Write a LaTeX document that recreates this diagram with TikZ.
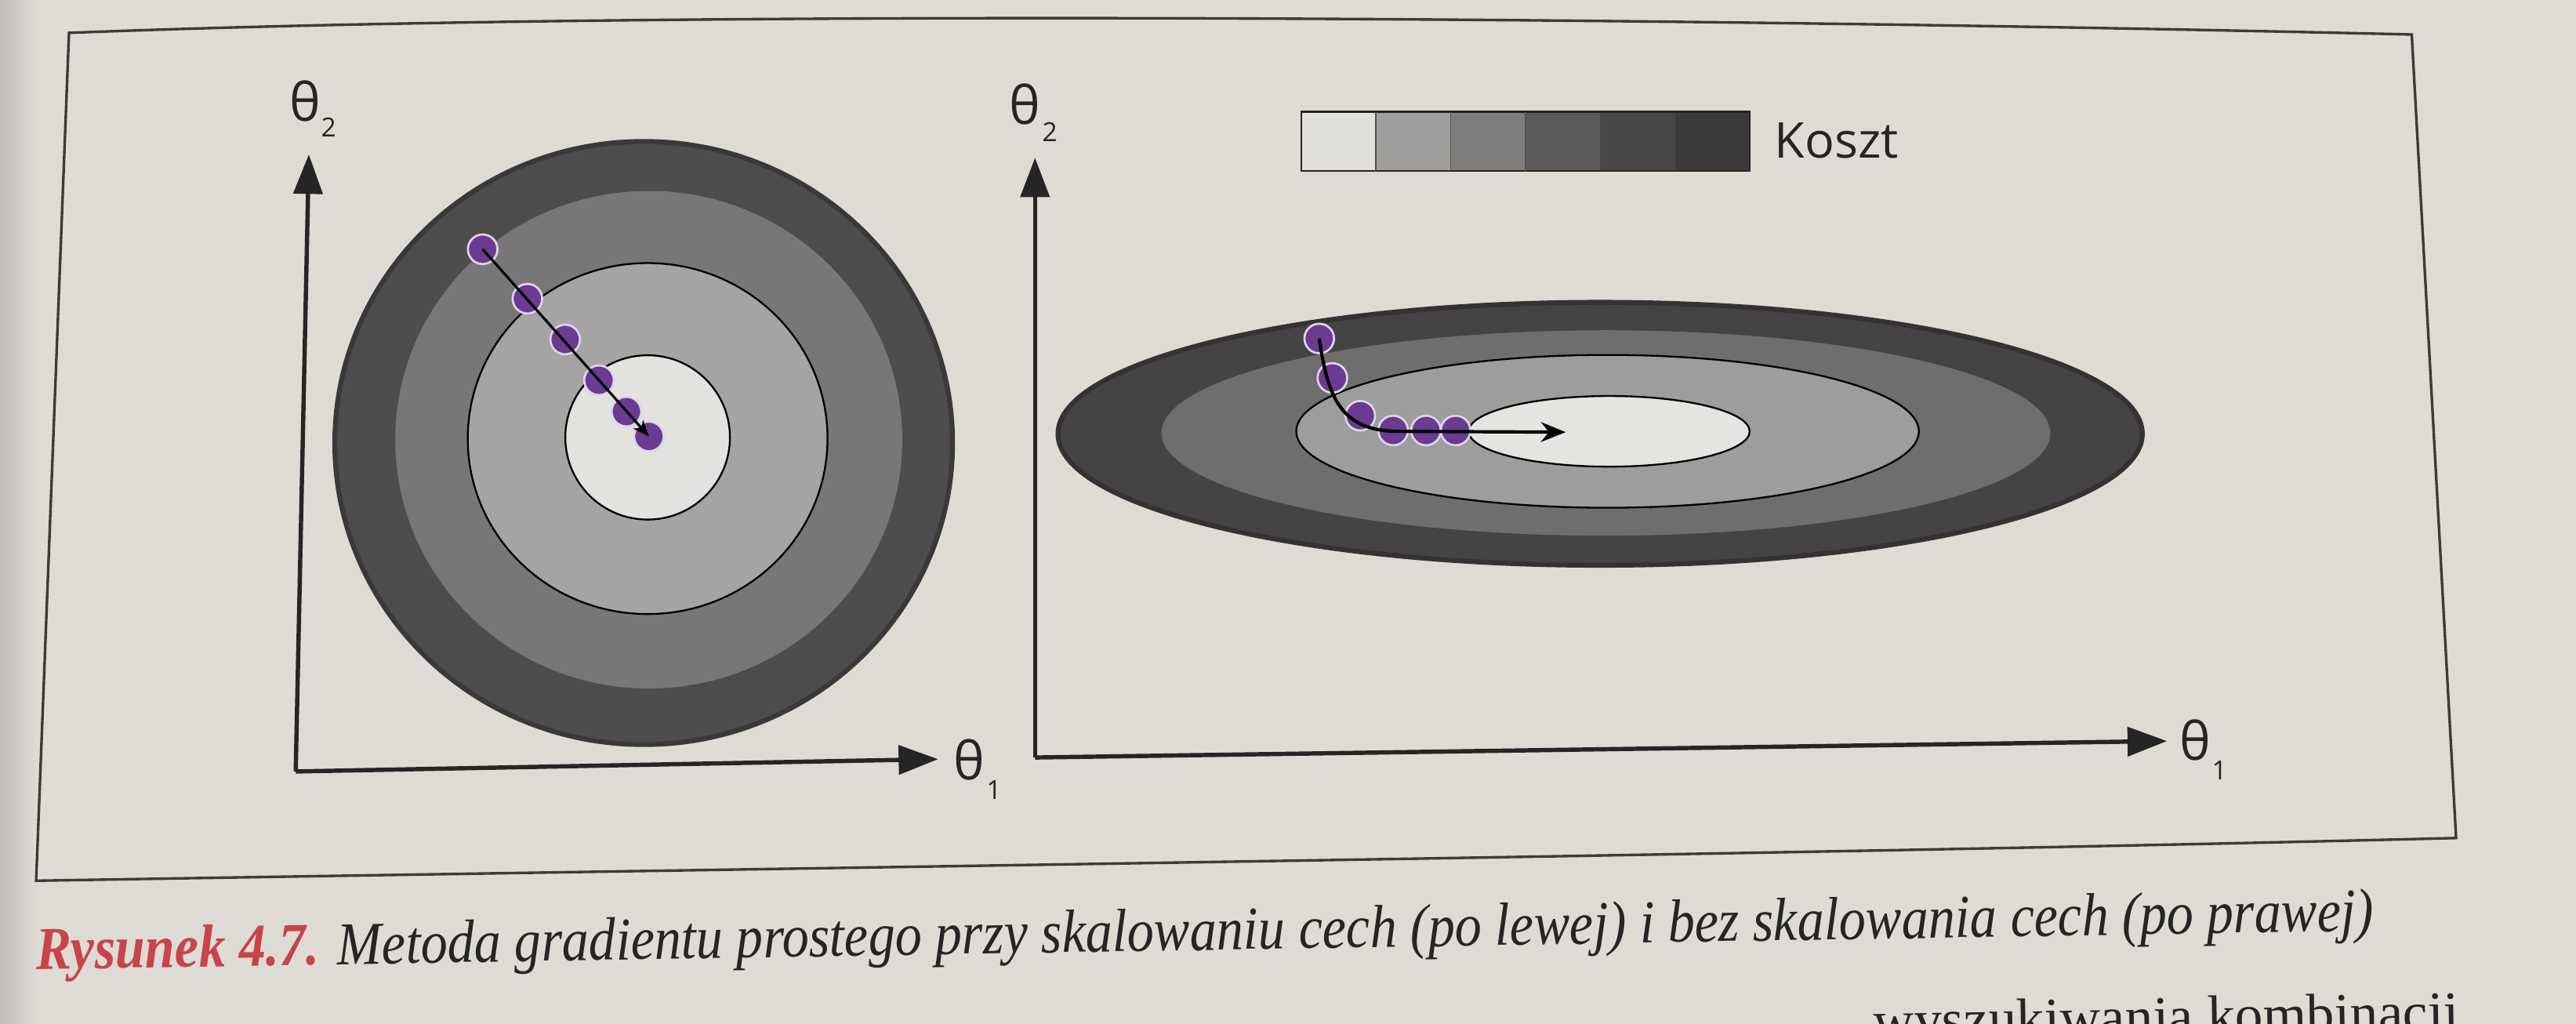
\documentclass[tikz,border=0pt]{standalone}
\usepackage{fontspec}
\usepackage{graphicx}
\usetikzlibrary{arrows.meta}
\newfontfamily\lblfont{Open Sans}
\newfontfamily\capfont{Liberation Serif}
\definecolor{page}{HTML}{DEDBD5}
\definecolor{inkc}{HTML}{262525}
\definecolor{capred}{HTML}{C7444A}
\definecolor{ringA}{HTML}{4E4C4D}
\definecolor{ringB}{HTML}{787677}
\definecolor{ringC}{HTML}{A5A3A3}
\definecolor{ringD}{HTML}{E4E2DE}
\definecolor{ellA}{HTML}{454344}
\definecolor{ellB}{HTML}{6F6D6D}
\definecolor{ellC}{HTML}{9E9C9C}
\definecolor{ellD}{HTML}{E6E4E0}
\definecolor{dotc}{HTML}{6A3B90}
\definecolor{halo}{HTML}{DCD4EA}
\definecolor{legA}{HTML}{E2E0DC}
\definecolor{legB}{HTML}{A09E9C}
\definecolor{legC}{HTML}{807E7D}
\definecolor{legD}{HTML}{5C5A5A}
\definecolor{legE}{HTML}{484646}
\definecolor{legF}{HTML}{3C3A3A}
\tikzset{
  frameline/.style={draw=inkc!90, line width=1.6pt},
  axisline/.style={draw=inkc, line width=2.6pt, -{Triangle[length=24pt,width=17.5pt]}},
  thlbl/.style={font=\lblfont\fontsize{32}{32}\selectfont, inner sep=0pt, text=inkc},
  sublbl/.style={font=\lblfont\fontsize{16}{16}\selectfont, inner sep=0pt, text=inkc},
  ringline/.style={draw=black, line width=1.1pt},
  gdot/.style={circle, fill=dotc, draw=halo, line width=1.3pt, minimum size=18pt, inner sep=0pt},
  gdotR/.style={circle, fill=dotc, draw=halo, line width=1.3pt, minimum size=18pt, inner sep=0pt},
  legcell/.style={draw=inkc, line width=1.2pt}
}
\begin{document}
\begin{tikzpicture}[x=1pt,y=-1pt]
\useasboundingbox (0,0) rectangle (1568,623);
\fill[page] (0,0) rectangle (1568,623);
\shade[left color=black!14!page, right color=page] (0,0) rectangle (22,623);

% frame
\draw[frameline] (42,20) .. controls (400,6) and (1000,10) .. (1468,21) -- (1495,510) .. controls (1100,520) and (500,528) .. (22,536) -- cycle;

% ---------- left panel ----------
\filldraw[fill=ringA, draw=ringA!75!black, line width=3pt] (391.8,269.6) ellipse [x radius=188pt, y radius=183.5pt];
\fill[ringB] (394.9,267.6) ellipse [x radius=154.3pt, y radius=151.4pt];
\filldraw[ringline, fill=ringC] (394.2,266.9) ellipse [x radius=109.5pt, y radius=106.8pt];
\filldraw[ringline, fill=ringD] (394.2,266.2) ellipse [x radius=50.1pt, y radius=50pt];

\coordinate (oL) at (180,469.5);
\coordinate (xL) at (571,462);
\coordinate (yL) at (188,94);
\draw[axisline] (oL) -- (xL);
\draw[axisline] (oL) -- (yL);
\node[thlbl] (t1L) at (590,462.5) {θ};
\node[sublbl] (s1L) at (605,481) {1};
\node[thlbl] (t2L) at (186,61.5) {θ};
\node[sublbl] (s2L) at (200,77.5) {2};

\node[gdot] (d1) at (293.8,151.7) {};
\node[gdot] (d2) at (321,181.8) {};
\node[gdot] (d3) at (344,206.6) {};
\node[gdot] (d4) at (364.6,231.4) {};
\node[gdot] (d5) at (381.3,250.5) {};
\node[gdot] (d6) at (395,265.6) {};
\draw[draw=black, line width=1.5pt, -{Stealth[length=10pt,width=8pt]}] (d1.center) -- (d6.center);

% ---------- right panel ----------
\filldraw[fill=ellA, draw=ellA!75!black, line width=3pt] (974,264) ellipse [x radius=330pt, y radius=80pt];
\fill[ellB] (977.5,263.5) ellipse [x radius=270.5pt, y radius=62.5pt];
\filldraw[ringline, fill=ellC] (978.5,262.5) ellipse [x radius=189.5pt, y radius=46.5pt];
\filldraw[ringline, fill=ellD] (979.5,262.5) ellipse [x radius=85.5pt, y radius=21.5pt];

\coordinate (oR) at (630,461);
\coordinate (xR) at (1319,451);
\coordinate (yR) at (630,96);
\draw[axisline] (oR) -- (xR);
\draw[axisline] (oR) -- (yR);
\node[thlbl] (t1R) at (1336,450.5) {θ};
\node[sublbl] (s1R) at (1351,469) {1};
\node[thlbl] (t2R) at (624,63.5) {θ};
\node[sublbl] (s2R) at (639,80.5) {2};

\node[gdotR] (e1) at (803,206) {};
\node[gdotR] (e2) at (811,230) {};
\node[gdotR] (e3) at (828,253) {};
\node[gdotR] (e4) at (848,262) {};
\node[gdotR] (e5) at (868,262) {};
\node[gdotR] (e6) at (886,262) {};
\coordinate (tipR) at (953,263);
\draw[draw=black, line width=2pt, -{Stealth[length=15pt,width=12pt]}] (e1.center) .. controls (808,240) and (815,262) .. (850,262.5) -- (tipR);

% legend
\fill[legA] (792,68) rectangle (837.5,104);
\fill[legB] (837.5,68) rectangle (883,104);
\fill[legC] (883,68) rectangle (928.5,104);
\fill[legD] (928.5,68) rectangle (974,104);
\fill[legE] (974,68) rectangle (1019.5,104);
\fill[legF] (1019.5,68) rectangle (1065,104);
\draw[legcell] (792,68) rectangle (1065,104);
\foreach \xx in {837.5,883,928.5} \draw[inkc!80, line width=0.8pt] (\xx,68) -- (\xx,104);
\node[font=\lblfont\fontsize{30}{30}\selectfont, inner sep=0pt, anchor=west, text=inkc] (koszt) at (1080,85.5) {Koszt};

% caption
\node[anchor=base west, inner sep=0pt, rotate=0.95, text=inkc] (cap) at (22,590)
  {\resizebox{1423pt}{\height}{\capfont\itshape\fontsize{37}{44}\selectfont\textcolor{capred}{\bfseries Rysunek 4.7.} Metoda gradientu prostego przy skalowaniu cech (po lewej) i bez skalowania cech (po prawej)}};
% next line of body text, cut off by the page edge as in the photo
\node[anchor=base east, inner sep=0pt, rotate=0.95, text=inkc, font=\capfont\fontsize{34}{40}\selectfont] (body) at (1497,627) {wyszukiwania kombinacji};
\end{tikzpicture}
\end{document}
